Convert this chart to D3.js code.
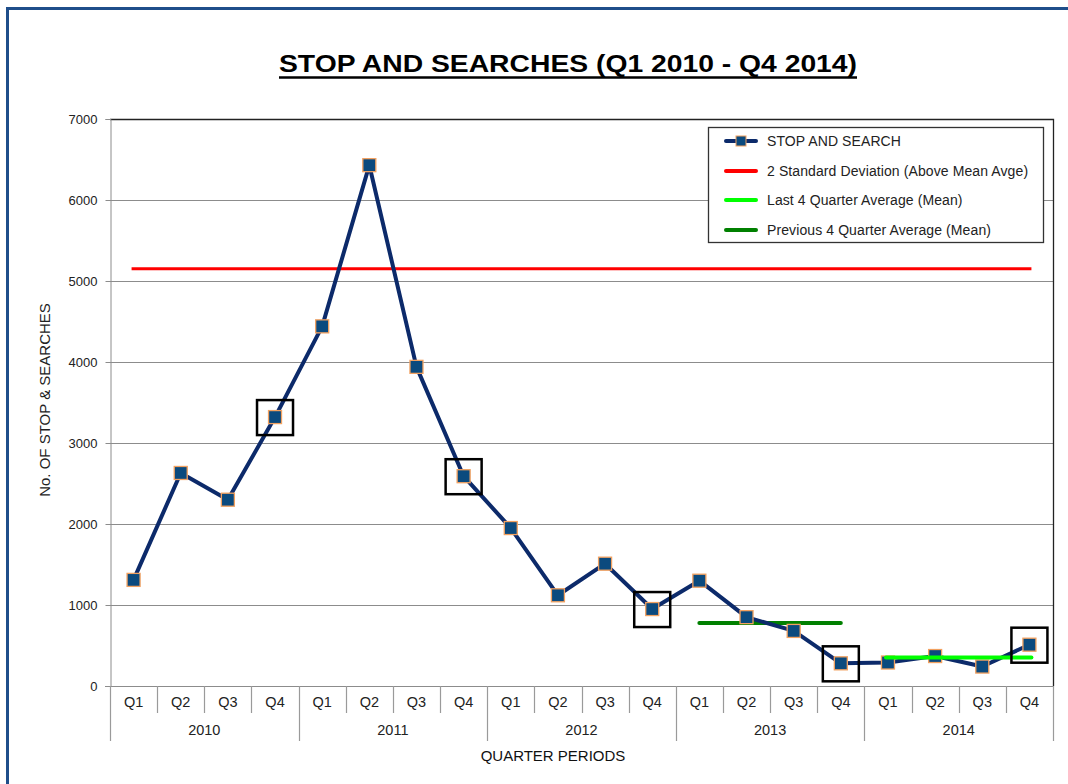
<!DOCTYPE html>
<html>
<head>
<meta charset="utf-8">
<script src="https://cdn.jsdelivr.net/npm/d3@7"></script>
<style>
  html, body { margin: 0; padding: 0; background: #fff; }
  svg { display: block; font-family: "Liberation Sans", Arial, sans-serif; }
</style>
</head>
<body>
<svg id="chart" width="1068" height="784"></svg>
<script>
// ---- data ----
const years = ["2010", "2011", "2012", "2013", "2014"];
const quarters = ["Q1", "Q2", "Q3", "Q4"];
const stopSearch = [1310, 2630, 2300, 3320, 4440, 6430, 3940, 2590, 1950, 1120, 1510, 950, 1300, 850, 680, 280, 290, 370, 240, 510];
const twoStdDev = 5150;
const previousAvg = 778;       // 2013 Q1 - Q4
const lastAvg = 352;           // 2014 Q1 - Q4
const highlighted = [3, 7, 11, 15, 19];
const yTicks = [0, 1000, 2000, 3000, 4000, 5000, 6000, 7000];
const legendLabels = ["STOP AND SEARCH", "2 Standard Deviation (Above Mean Avge)", "Last 4 Quarter Average (Mean)", "Previous 4 Quarter Average (Mean)"];

const periods = [];
years.forEach(yr => quarters.forEach(q => periods.push({ year: yr, q: q, key: q + " " + yr })));

// ---- layout ----
const svg = d3.select("#chart");
const pLeft = 110, pRight = 1053, pTop = 119, pBottom = 686;

const x = d3.scaleBand().domain(periods.map(p => p.key)).range([pLeft, pRight]).padding(0);
const y = d3.scaleLinear().domain([0, 7000]).range([pBottom, pTop]);
const cx = i => x(periods[i].key) + x.bandwidth() / 2;

// outer frame
svg.append("path")
  .attr("d", "M7.5,1068 L7.5,8.5 L1068,8.5")
  .attr("fill", "none").attr("stroke", "#1F4E8A").attr("stroke-width", 3);

// title
svg.append("text")
  .attr("x", 568).attr("y", 72)
  .attr("text-anchor", "middle")
  .attr("font-size", 24).attr("font-weight", "bold").attr("fill", "#000")
  .attr("textLength", 578).attr("lengthAdjust", "spacingAndGlyphs")
  .text("STOP AND SEARCHES (Q1 2010 - Q4 2014)");
svg.append("line").attr("x1", 279).attr("x2", 857).attr("y1", 77.5).attr("y2", 77.5)
  .attr("stroke", "#000").attr("stroke-width", 2.5);

// gridlines
svg.append("g").selectAll("line").data(yTicks.filter(v => v > 0 && v < 7000)).join("line")
  .attr("x1", pLeft).attr("x2", pRight)
  .attr("y1", d => Math.round(y(d)) + 0.5).attr("y2", d => Math.round(y(d)) + 0.5)
  .attr("stroke", "#8c8c8c").attr("stroke-width", 1);

// plot border top/right
svg.append("path")
  .attr("d", `M${pLeft},${pTop + 0.5} L${pRight + 0.5},${pTop + 0.5} L${pRight + 0.5},${pBottom}`)
  .attr("fill", "none").attr("stroke", "#222").attr("stroke-width", 1.3);

// y axis
const yAxis = svg.append("g").attr("transform", `translate(${pLeft + 0.5},0)`)
  .call(d3.axisLeft(y).tickValues(yTicks).tickSize(5).tickPadding(8).tickFormat(d3.format("d")));
yAxis.select(".domain").attr("stroke", "#8c8c8c");
yAxis.selectAll(".tick line").attr("stroke", "#8c8c8c");
yAxis.selectAll("text").attr("font-size", 13).attr("fill", "#222").attr("font-family", "Liberation Sans, Arial, sans-serif");

// y axis title
svg.append("text")
  .attr("transform", "translate(50,400) rotate(-90)")
  .attr("text-anchor", "middle").attr("font-size", 15).attr("fill", "#222")
  .text("No. OF STOP & SEARCHES");

// x axis (two-level)
const xAxis = svg.append("g").attr("transform", `translate(0,${pBottom + 0.5})`)
  .call(d3.axisBottom(x).tickSize(0).tickPadding(10).tickFormat(k => k.split(" ")[0]));
xAxis.select(".domain").remove();
xAxis.selectAll("text").attr("font-size", 14.5).attr("fill", "#222").attr("font-family", "Liberation Sans, Arial, sans-serif");
svg.append("line").attr("x1", pLeft - 5).attr("x2", pRight).attr("y1", pBottom + 0.5).attr("y2", pBottom + 0.5)
  .attr("stroke", "#8c8c8c");

// separators
const bounds = d3.range(periods.length + 1);
svg.append("g").selectAll("line").data(bounds).join("line")
  .attr("x1", i => Math.round(i < periods.length ? x(periods[i].key) : pRight) + 0.5)
  .attr("x2", i => Math.round(i < periods.length ? x(periods[i].key) : pRight) + 0.5)
  .attr("y1", pBottom)
  .attr("y2", i => (i % 4 === 0) ? 741 : 713)
  .attr("stroke", "#9a9a9a").attr("stroke-width", 1.2);

// year labels
svg.append("g").selectAll("text").data(years).join("text")
  .attr("x", (d, i) => (x(periods[i * 4].key) + x(periods[i * 4 + 3].key) + x.bandwidth()) / 2)
  .attr("y", 735).attr("text-anchor", "middle").attr("font-size", 14.5).attr("fill", "#222")
  .text(d => d);

svg.append("text").attr("x", 553).attr("y", 761).attr("text-anchor", "middle")
  .attr("font-size", 15).attr("fill", "#111").text("QUARTER PERIODS");

// reference lines
svg.append("line").attr("x1", cx(0) - 2).attr("x2", cx(19) + 2)
  .attr("y1", y(twoStdDev)).attr("y2", y(twoStdDev))
  .attr("stroke", "#FF0000").attr("stroke-width", 3);

svg.append("line").attr("x1", cx(12)).attr("x2", cx(15))
  .attr("y1", y(previousAvg)).attr("y2", y(previousAvg))
  .attr("stroke", "#008000").attr("stroke-width", 4).attr("stroke-linecap", "round");

// main series line
const line = d3.line().x((d, i) => cx(i)).y(d => y(d));
svg.append("path").datum(stopSearch)
  .attr("d", line).attr("fill", "none")
  .attr("stroke", "#0C2A6A").attr("stroke-width", 4).attr("stroke-linejoin", "round");

// markers
svg.append("g").selectAll("rect").data(stopSearch).join("rect")
  .attr("x", (d, i) => cx(i) - 6.5).attr("y", d => y(d) - 6.5)
  .attr("width", 13).attr("height", 13)
  .attr("fill", "#0B4A7E").attr("stroke", "#F2A160").attr("stroke-width", 1.3);

// last 4 quarter average on top
svg.append("line").attr("x1", cx(16) - 2).attr("x2", cx(19) + 2)
  .attr("y1", y(lastAvg)).attr("y2", y(lastAvg))
  .attr("stroke", "#00FF00").attr("stroke-width", 4).attr("stroke-linecap", "round");

// highlight boxes
svg.append("g").selectAll("rect").data(highlighted).join("rect")
  .attr("x", i => cx(i) - 18).attr("y", i => y(stopSearch[i]) - 17)
  .attr("width", 36).attr("height", 35)
  .attr("fill", "none").attr("stroke", "#000").attr("stroke-width", 2.5);

// legend
const lg = svg.append("g");
lg.append("rect").attr("x", 708.5).attr("y", 127.5).attr("width", 335).attr("height", 115)
  .attr("fill", "#fff").attr("stroke", "#333").attr("stroke-width", 1.3);
const legendStyles = [
  { color: "#0C2A6A", marker: true },
  { color: "#FF0000" },
  { color: "#00FF00" },
  { color: "#008000" }
];
const legendY = [141, 171, 200, 230];
legendLabels.forEach((lab, i) => {
  lg.append("line").attr("x1", 726).attr("x2", 756).attr("y1", legendY[i]).attr("y2", legendY[i])
    .attr("stroke", legendStyles[i].color).attr("stroke-width", 4).attr("stroke-linecap", "round");
  if (legendStyles[i].marker) {
    lg.append("rect").attr("x", 736).attr("y", legendY[i] - 5).attr("width", 10).attr("height", 10)
      .attr("fill", "#0B4A7E").attr("stroke", "#F2A160").attr("stroke-width", 1);
  }
  lg.append("text").attr("x", 767).attr("y", legendY[i] + 5)
    .attr("font-size", 14).attr("fill", "#222").attr("letter-spacing", 0.1)
    .text(lab);
});
</script>
</body>
</html>
